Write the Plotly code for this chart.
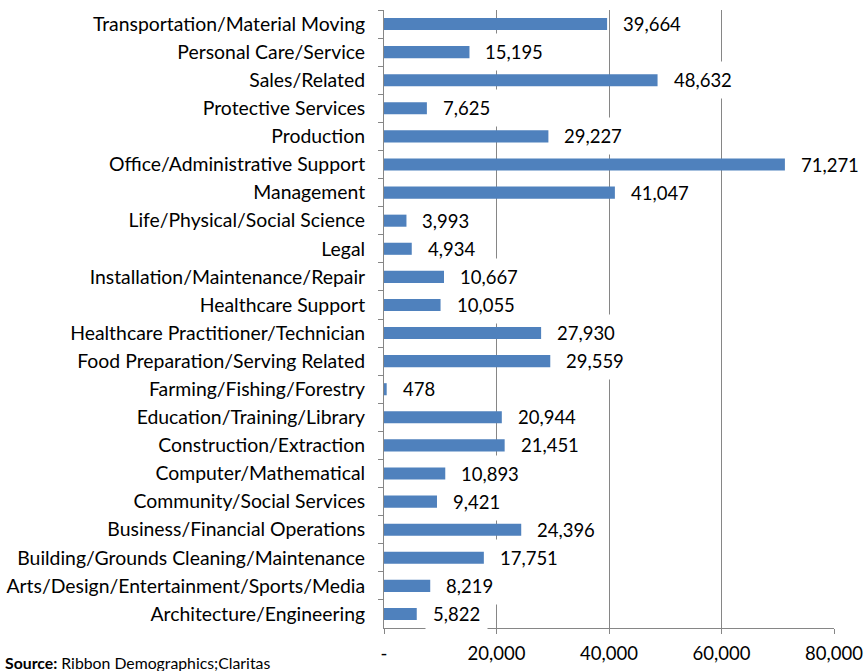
import plotly.graph_objects as go

categories = [
    "Transportation/Material Moving",
    "Personal Care/Service",
    "Sales/Related",
    "Protective Services",
    "Production",
    "Office/Administrative Support",
    "Management",
    "Life/Physical/Social Science",
    "Legal",
    "Installation/Maintenance/Repair",
    "Healthcare Support",
    "Healthcare Practitioner/Technician",
    "Food Preparation/Serving Related",
    "Farming/Fishing/Forestry",
    "Education/Training/Library",
    "Construction/Extraction",
    "Computer/Mathematical",
    "Community/Social Services",
    "Business/Financial Operations",
    "Building/Grounds Cleaning/Maintenance",
    "Arts/Design/Entertainment/Sports/Media",
    "Architecture/Engineering",
]
values = [39664, 15195, 48632, 7625, 29227, 71271, 41047, 3993, 4934, 10667,
          10055, 27930, 29559, 478, 20944, 21451, 10893, 9421, 24396, 17751,
          8219, 5822]
tick_vals = [0, 20000, 40000, 60000, 80000]
tick_text = ["-", "20,000", "40,000", "60,000", "80,000"]

FONT = "Lato, Carlito, Calibri, sans-serif"
FS = 18.5
FS_CAT = 19.4

fig = go.Figure()
fig.add_trace(go.Bar(
    x=values, y=categories, orientation="h",
    marker=dict(color="#4F81BD", line=dict(width=0)),
    width=0.43,
    hoverinfo="x+y",
))

for c, v in zip(categories, values):
    fig.add_annotation(
        x=v, y=c, xref="x", yref="y",
        text=f"{v:,}", showarrow=False,
        xanchor="left", yanchor="middle", xshift=8,
        bgcolor="white", borderpad=7,
        font=dict(family=FONT, size=FS, color="#000000"),
    )

fig.add_annotation(
    x=0, y=0, xref="paper", yref="paper",
    xanchor="left", yanchor="middle",
    xshift=-381, yshift=-34,
    text="<b>Source:</b> Ribbon Demographics;Claritas",
    showarrow=False,
    font=dict(family=FONT, size=15.8, color="#000000"),
)

n = len(categories)
fig.update_layout(
    width=868, height=671,
    margin=dict(l=384, r=34, t=10, b=43, autoexpand=False),
    paper_bgcolor="white", plot_bgcolor="white",
    showlegend=False,
    bargap=0.57,
    font=dict(family=FONT, size=FS, color="#000000"),
)
fig.update_xaxes(
    range=[0, 80000],
    tickvals=tick_vals, ticktext=tick_text,
    showgrid=True, gridcolor="#868686", gridwidth=1,
    ticks="outside", ticklen=5, tickcolor="#868686",
    showline=True, linecolor="#868686", linewidth=1,
    zeroline=False, automargin=False,
    tickfont=dict(family=FONT, size=FS),
    ticklabelstandoff=4,
)
fig.update_yaxes(
    categoryorder="array", categoryarray=categories,
    range=[n - 0.5, -0.5],
    tickson="boundaries",
    ticks="outside", ticklen=5, tickcolor="#868686",
    showline=True, linecolor="#868686", linewidth=1,
    showgrid=False, automargin=False,
    tickfont=dict(family=FONT, size=FS_CAT),
    ticklabelstandoff=14,
)

fig.write_html(
    "out.html",
    config={"displayModeBar": False},
    post_script="document.body.style.margin='0';document.body.style.padding='0';",
)
